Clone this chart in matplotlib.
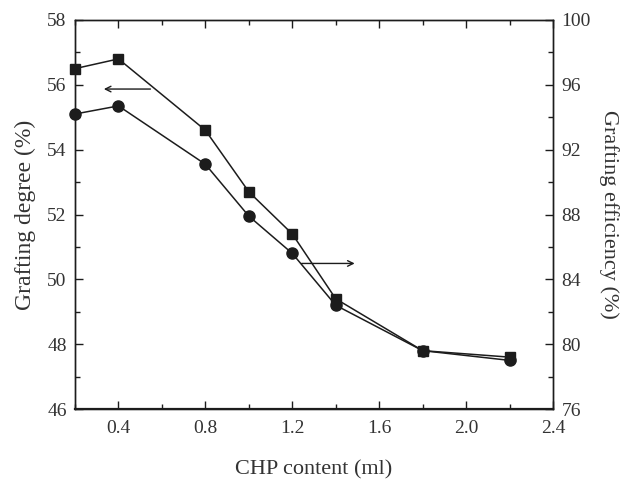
import matplotlib
matplotlib.use("Agg")
import matplotlib.pyplot as plt
from matplotlib.ticker import MultipleLocator

plt.rcParams['font.family'] = ['Liberation Serif', 'DejaVu Serif']

# CHP content (ml)
chp = [0.2, 0.4, 0.8, 1.0, 1.2, 1.4, 1.8, 2.2]
# grafting degree (%), squares, left axis
degree = [56.5, 56.8, 54.6, 52.7, 51.4, 49.4, 47.8, 47.6]
# grafting efficiency (%), circles, right axis
efficiency = [94.2, 94.7, 91.1, 87.9, 85.6, 82.4, 79.6, 79.0]

ink = '#1c1c1c'
txt = '#333333'

fig = plt.figure(figsize=(6.23, 4.82), dpi=100)
ax = fig.add_axes([75 / 623, 73 / 482, 478 / 623, 389 / 482])
ax2 = ax.twinx()

ax.plot(chp, degree, color=ink, lw=1.1, marker='s', ms=7.5, clip_on=False, zorder=3)
ax2.plot(chp, efficiency, color=ink, lw=1.1, marker='o', ms=8, clip_on=False, zorder=3)

# arrows pointing to the axis each curve belongs to
ax.annotate('', xy=(0.32, 55.87), xytext=(0.56, 55.87),
            arrowprops=dict(arrowstyle='->', color=ink, lw=1.0))
ax.annotate('', xy=(1.50, 50.49), xytext=(1.23, 50.49),
            arrowprops=dict(arrowstyle='->', color=ink, lw=1.0))

ax.set_xlim(0.2, 2.4)
ax.set_ylim(46, 58)
ax2.set_ylim(76, 100)

ax.xaxis.set_minor_locator(MultipleLocator(0.2))
ax.set_xticks([0.4, 0.8, 1.2, 1.6, 2.0, 2.4])
ax.yaxis.set_major_locator(MultipleLocator(2))
ax.yaxis.set_minor_locator(MultipleLocator(1))
ax2.yaxis.set_major_locator(MultipleLocator(4))
ax2.yaxis.set_minor_locator(MultipleLocator(2))

ax.tick_params(which='both', direction='in', top=True, colors=ink, labelcolor=txt, labelsize=14)
ax.tick_params(which='major', length=6, width=1)
ax.tick_params(which='minor', length=3.5, width=1)
ax.tick_params(axis='x', pad=8)
ax.tick_params(axis='y', pad=6)
ax2.tick_params(which='both', direction='in', colors=ink, labelcolor=txt, labelsize=14, pad=6)
ax2.tick_params(which='major', length=6, width=1)
ax2.tick_params(which='minor', length=3.5, width=1)

for a in (ax, ax2):
    for s in a.spines.values():
        s.set_color(ink)
        s.set_linewidth(1.0)
ax.spines['bottom'].set_linewidth(1.6)

ax.set_xlabel('CHP content (ml)', fontsize=16, color=txt, labelpad=17)
ax.set_ylabel('Grafting degree (%)', fontsize=17, color=txt, labelpad=8)
ax2.set_ylabel('Grafting efficiency (%)', fontsize=16, color=txt, rotation=270, labelpad=20)

fig.savefig('out.png', dpi=100)
